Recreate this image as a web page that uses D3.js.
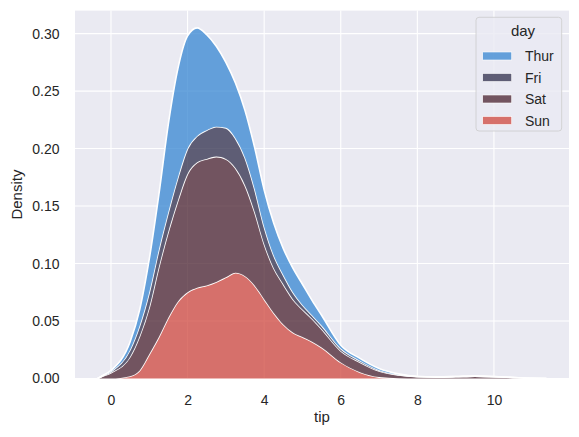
<!DOCTYPE html>
<html>
<head>
<meta charset="utf-8">
<script src="https://cdn.jsdelivr.net/npm/d3@7"></script>
<style>
  body { margin: 0; background: #fff; }
  text { font-family: "Liberation Sans", Arial, sans-serif; fill: #262626; }
</style>
</head>
<body>
<svg id="chart" width="579" height="437"></svg>
<script>
const tipGrid = [-0.35, -0.25, 0, 0.5, 0.75, 1, 1.25, 1.5, 1.75, 2, 2.25, 2.5, 2.75, 3, 3.25, 3.5, 3.75, 4, 4.25, 4.5, 4.75, 5, 5.25, 5.5, 6, 6.5, 7, 7.5, 8, 8.5, 9, 9.5, 10, 10.5, 11, 11.37];

// density of each day (stacked: Sun at the bottom, Thur on top)
const thurDensity = [0, 0.0003, 0.001, 0.007, 0.014, 0.029, 0.048, 0.077, 0.095, 0.098, 0.094, 0.083, 0.070, 0.057, 0.048, 0.041, 0.036, 0.032, 0.028, 0.023, 0.021, 0.018, 0.013, 0.009, 0.003, 0.002, 0.0015, 0.0006, 0.0001, 0.0001, 0, 0, 0, 0, 0, 0];
const friDensity  = [0, 0.0002, 0.001, 0.006, 0.009, 0.013, 0.015, 0.017, 0.020, 0.022, 0.023, 0.025, 0.026, 0.027, 0.026, 0.024, 0.020, 0.015, 0.011, 0.008, 0.006, 0.004, 0.003, 0.003, 0.002, 0.0013, 0.0007, 0.0004, 0.0002, 0.0002, 0.0002, 0.0001, 0.0001, 0.0001, 0, 0];
const satDensity  = [0, 0.0015, 0.005, 0.017, 0.030, 0.041, 0.061, 0.075, 0.088, 0.103, 0.109, 0.110, 0.109, 0.103, 0.091, 0.079, 0.064, 0.048, 0.039, 0.035, 0.029, 0.024, 0.020, 0.016, 0.010, 0.0087, 0.0053, 0.0028, 0.0015, 0.0012, 0.0015, 0.0020, 0.0015, 0.0008, 0.0002, 0];
const sunDensity  = [0, 0, 0, 0.002, 0.007, 0.021, 0.036, 0.053, 0.067, 0.075, 0.079, 0.081, 0.084, 0.088, 0.092, 0.089, 0.081, 0.069, 0.057, 0.047, 0.040, 0.036, 0.032, 0.027, 0.014, 0.0055, 0.0012, 0.0002, 0, 0, 0, 0, 0, 0, 0, 0];

const days = ["Thur", "Fri", "Sat", "Sun"];
const dayColors = ["#3686d1", "#2f2d4b", "#4a222f", "#cf473d"];

const xTicks = [0, 2, 4, 6, 8, 10];
const yTicks = [0, 0.05, 0.10, 0.15, 0.20, 0.25, 0.30];

const svg = d3.select("#chart");
const margin = {top: 10.6, right: 10, bottom: 58.5, left: 75};
const width = +svg.attr("width") - margin.left - margin.right;
const height = +svg.attr("height") - margin.top - margin.bottom;

// table for d3.stack
const series = {Thur: thurDensity, Fri: friDensity, Sat: satDensity, Sun: sunDensity};
const table = tipGrid.map((t, i) => {
  const row = {tip: t};
  days.forEach(d => row[d] = series[d][i]);
  return row;
});

const x = d3.scaleLinear().domain([-0.94, 11.96]).range([0, width]);
const y = d3.scaleLinear().domain([0, 0.32]).range([height, 0]);
const color = d3.scaleOrdinal().domain(days).range(dayColors);

const g = svg.append("g").attr("transform", `translate(${margin.left},${margin.top})`);

// background + grid
g.append("rect").attr("width", width).attr("height", height).attr("fill", "#eaeaf2");

g.append("g")
  .selectAll("line")
  .data(xTicks)
  .join("line")
    .attr("x1", d => x(d)).attr("x2", d => x(d))
    .attr("y1", 0).attr("y2", height)
    .attr("stroke", "#fff").attr("stroke-width", 1.1);

g.append("g")
  .selectAll("line")
  .data(yTicks)
  .join("line")
    .attr("x1", 0).attr("x2", width)
    .attr("y1", d => y(d)).attr("y2", d => y(d))
    .attr("stroke", "#fff").attr("stroke-width", 1.1);

// stacked densities, Sun first (bottom)
const stack = d3.stack().keys(days.slice().reverse());
const layers = stack(table);

const area = d3.area()
  .x(d => x(d.data.tip))
  .y0(d => y(d[0]))
  .y1(d => y(d[1]))
  .curve(d3.curveMonotoneX);

const topLine = d3.line()
  .x(d => x(d.data.tip))
  .y(d => y(d[1]))
  .curve(d3.curveMonotoneX);

const lay = g.append("g").selectAll("g").data(layers).join("g");
lay.append("path")
  .attr("d", area)
  .attr("fill", d => color(d.key))
  .attr("fill-opacity", 0.75);
lay.append("path")
  .attr("d", topLine)
  .attr("fill", "none")
  .attr("stroke", "#fff")
  .attr("stroke-width", 1.6);

// axes (no tick marks, like seaborn darkgrid)
const xAxis = g.append("g")
  .attr("transform", `translate(0,${height})`)
  .call(d3.axisBottom(x).tickValues(xTicks).tickSize(0).tickPadding(17).tickFormat(d3.format("d")));
xAxis.select(".domain").remove();
xAxis.selectAll("text").attr("font-size", 14).attr("font-family", null);

const yAxis = g.append("g")
  .call(d3.axisLeft(y).tickValues(yTicks).tickSize(0).tickPadding(15.5).tickFormat(d3.format(".2f")));
yAxis.select(".domain").remove();
yAxis.selectAll("text").attr("font-size", 14).attr("font-family", null);

g.append("text")
  .attr("x", width / 2).attr("y", height + 43.5)
  .attr("text-anchor", "middle").attr("font-size", 15)
  .text("tip");

g.append("text")
  .attr("transform", `translate(${22 - margin.left},${height / 2}) rotate(-90)`)
  .attr("text-anchor", "middle").attr("font-size", 15)
  .text("Density");

// legend
const legend = svg.append("g").attr("transform", "translate(476,17.3)");
legend.append("rect")
  .attr("width", 85.7).attr("height", 113.7).attr("rx", 3)
  .attr("fill", "#eaeaf2").attr("fill-opacity", 0.8)
  .attr("stroke", "#cccccc").attr("stroke-width", 0.8);
legend.append("text")
  .attr("x", 47).attr("y", 19).attr("text-anchor", "middle").attr("font-size", 15)
  .text("day");
const item = legend.selectAll("g.item").data(days).join("g")
  .attr("transform", (d, i) => `translate(6.7,${34.7 + i * 21.5})`);
item.append("rect")
  .attr("width", 29).attr("height", 8)
  .attr("fill", d => color(d)).attr("fill-opacity", 0.75)
  .attr("stroke", "#fff").attr("stroke-width", 0.6);
item.append("text")
  .attr("x", 42.3).attr("y", 9).attr("font-size", 14)
  .text(d => d);
</script>
</body>
</html>
